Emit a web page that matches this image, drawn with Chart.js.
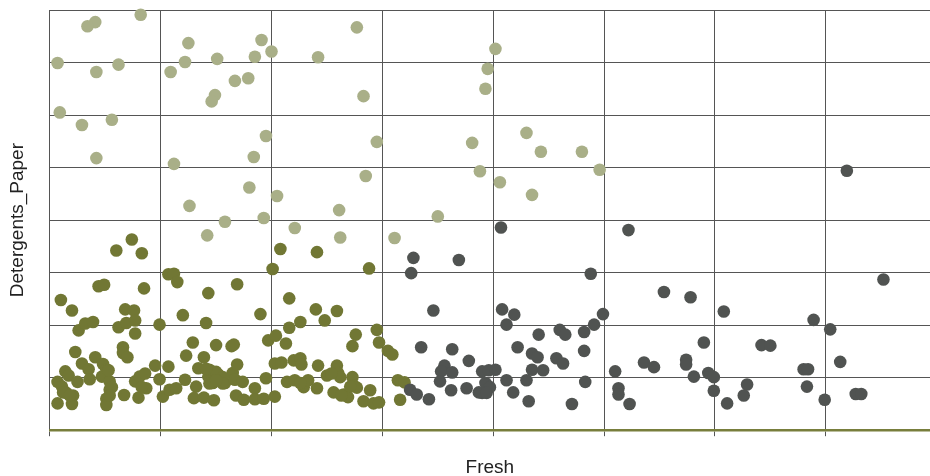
<!DOCTYPE html>
<html>
<head>
<meta charset="utf-8">
<script src="https://cdn.jsdelivr.net/npm/chart.js@4/dist/chart.umd.min.js"></script>
<style>
  html, body { margin: 0; padding: 0; background: #ffffff; }
  #wrap { width: 930px; height: 476px; }
</style>
</head>
<body>
<div id="wrap"><canvas id="c" width="930" height="476"></canvas></div>
<script>
// Axis titles
const xTitle = 'Fresh';
const yTitle = 'Detergents_Paper';

// Cluster 1 (light olive): [Fresh, Detergents_Paper] in grid units
const clusterLight = [
  [0.82,7.91],[0.41,7.77],[0.34,7.69],[0.07,6.99],[0.42,6.82],[0.62,6.96],[0.09,6.05],[0.29,5.81],
  [0.56,5.91],[0.42,5.18],[1.25,7.37],[1.22,7.01],[1.09,6.82],[1.51,7.07],[1.91,7.43],[1.85,7.11],
  [2.00,7.21],[2.42,7.10],[1.67,6.65],[1.79,6.70],[1.49,6.38],[1.46,6.26],[1.95,5.60],[1.84,5.20],
  [1.12,5.07],[1.80,4.62],[2.05,4.46],[1.26,4.27],[1.58,3.97],[1.93,4.04],[2.21,3.85],[1.42,3.71],
  [2.77,7.67],[2.83,6.36],[2.95,5.49],[2.85,4.84],[2.61,4.19],[2.62,3.67],[3.11,3.66],[3.50,4.07],
  [4.02,7.26],[3.95,6.88],[3.93,6.50],[3.81,5.47],[4.30,5.66],[4.43,5.30],[4.80,5.30],[4.96,4.96],
  [3.88,4.93],[4.06,4.72],[4.35,4.48]
];

// Cluster 2 (dark olive)
const clusterOlive = [
  [0.74,3.63],[0.60,3.42],[0.83,3.37],[2.08,3.45],[2.41,3.39],[2.01,3.07],[2.88,3.08],[1.07,2.97],
  [1.12,2.98],[1.15,2.82],[0.44,2.74],[0.49,2.77],[0.85,2.70],[1.43,2.61],[1.69,2.78],[0.10,2.48],
  [0.20,2.28],[2.16,2.51],[1.20,2.19],[1.90,2.21],[1.41,2.04],[0.99,2.01],[0.68,2.30],[0.76,2.28],
  [2.40,2.30],[2.59,2.27],[2.48,2.09],[2.26,2.06],[2.16,1.95],[0.26,1.90],[0.32,2.03],[0.39,2.06],
  [0.62,1.96],[0.69,2.04],[0.77,2.09],[0.77,1.84],[2.76,1.82],[2.73,1.60],[2.95,1.91],[2.97,1.67],
  [3.05,1.51],[3.09,1.44],[0.23,1.49],[0.41,1.39],[0.66,1.58],[0.66,1.47],[0.70,1.39],[1.29,1.67],
  [1.50,1.62],[1.64,1.60],[1.66,1.63],[1.97,1.71],[2.04,1.80],[2.13,1.65],[1.23,1.42],[1.39,1.39],
  [0.29,1.27],[0.35,1.16],[0.48,1.26],[0.51,1.16],[0.14,1.12],[0.17,1.04],[0.25,0.92],[0.36,0.97],
  [0.47,1.02],[0.54,0.93],[0.07,0.92],[0.11,0.83],[0.15,0.71],[0.21,0.66],[0.07,0.51],[0.20,0.50],
  [0.54,0.77],[0.51,0.60],[0.51,0.48],[0.67,0.67],[0.80,0.62],[0.77,0.93],[0.81,1.02],[0.86,1.08],
  [0.87,0.80],[0.95,1.23],[0.99,0.97],[1.07,1.21],[1.02,0.64],[1.08,0.77],[1.14,0.80],[1.22,0.96],
  [1.32,0.83],[1.30,0.61],[1.39,0.62],[1.48,0.57],[1.34,1.18],[1.43,1.02],[1.47,0.90],[1.52,1.06],
  [1.58,0.90],[1.65,1.09],[1.69,1.25],[1.67,0.96],[1.74,0.92],[1.68,0.66],[1.75,0.58],[1.85,0.80],
  [1.85,0.59],[1.93,0.60],[1.95,0.99],[2.03,0.64],[2.03,1.27],[2.09,1.29],[2.20,1.33],[2.26,1.37],
  [2.27,1.25],[2.14,0.92],[2.21,0.95],[2.29,0.82],[2.33,0.95],[2.41,0.80],[2.42,1.23],[2.50,1.04],
  [2.59,1.23],[2.60,1.09],[2.62,1.01],[2.73,1.01],[2.74,0.85],[2.77,0.81],[2.89,0.76],[2.56,0.72],
  [2.65,0.68],[2.69,0.63],[2.83,0.55],[2.92,0.51],[2.97,0.53],[1.44,1.15],[1.50,1.11],[1.56,1.01],
  [1.44,0.89],[1.56,0.89],[2.54,1.08],[2.26,0.90],[2.71,0.83],[2.63,0.66],[3.14,0.95],[3.20,0.91],
  [3.16,0.58],[0.12,0.72],[0.18,0.66],[0.56,0.82],[0.54,0.66],[0.83,0.82],[1.41,1.17],[1.50,0.95],
  [0.53,1.14]
];

// Cluster 3 (dark grey)
const clusterGrey = [
  [3.28,3.28],[3.69,3.24],[3.26,2.99],[4.88,2.98],[3.46,2.28],[4.08,2.30],[4.19,2.20],[4.12,2.01],
  [4.99,2.21],[4.91,2.01],[4.41,1.82],[4.60,1.91],[4.65,1.82],[4.82,1.87],[4.82,1.51],[3.35,1.58],
  [3.63,1.54],[4.22,1.58],[4.35,1.46],[4.40,1.39],[4.57,1.37],[4.63,1.27],[3.78,1.32],[3.56,1.23],
  [3.53,1.12],[3.63,1.10],[3.90,1.12],[3.96,1.14],[4.02,1.15],[4.35,1.15],[4.45,1.14],[5.10,1.12],
  [3.52,0.93],[3.62,0.76],[3.76,0.80],[3.93,0.90],[3.97,0.82],[3.90,0.71],[3.87,0.72],[3.94,0.71],
  [4.12,0.95],[4.30,0.95],[4.18,0.72],[4.83,0.92],[3.25,0.77],[3.31,0.68],[3.42,0.59],[4.32,0.55],
  [4.71,0.50],[5.13,0.80],[5.13,0.68],[7.52,2.87],[5.54,2.63],[5.78,2.53],[6.08,2.26],[6.89,2.10],
  [7.04,1.92],[5.90,1.67],[6.42,1.62],[6.50,1.61],[7.13,1.30],[5.36,1.29],[5.45,1.20],[5.74,1.34],
  [5.74,1.25],[5.81,1.02],[5.94,1.09],[5.99,1.01],[5.23,0.50],[5.99,0.75],[6.29,0.87],[6.26,0.66],
  [6.11,0.51],[6.80,1.16],[6.84,1.16],[6.83,0.83],[6.99,0.58],[7.27,0.69],[7.32,0.69],[7.19,4.94],
  [5.22,3.81],[4.07,3.86]
];

const colLight = '#a9af88';
const colOlive = '#717734';
const colGrey  = '#505351';
const gridCol  = '#555555';
const axisCol  = '#787e3c';
const fontFam  = '"Liberation Sans", Arial, Helvetica, sans-serif';

const toPts = arr => arr.map(p => ({x: p[0], y: p[1]}));

const mk = (label, arr, col) => ({
  label, data: toPts(arr), backgroundColor: col, borderWidth: 0,
  pointRadius: 6.3, pointHoverRadius: 6.3, clip: false
});

new Chart(document.getElementById('c'), {
  type: 'scatter',
  data: {
    datasets: [
      mk('Cluster 3', clusterGrey, colGrey),
      mk('Cluster 2', clusterOlive, colOlive),
      mk('Cluster 1', clusterLight, colLight)
    ]
  },
  options: {
    responsive: false,
    animation: false,
    devicePixelRatio: 1,
    layout: { autoPadding: false, padding: { top: 10, left: 0, right: 0, bottom: 0 } },
    plugins: { legend: { display: false }, tooltip: { enabled: false } },
    scales: {
      x: {
        type: 'linear', min: 0, max: 7.94,
        ticks: { stepSize: 1, display: false, includeBounds: false },
        grid: { color: gridCol, lineWidth: 1, drawTicks: true, tickLength: 6, tickColor: gridCol },
        border: { display: true, color: axisCol, width: 2.5 },
        title: { display: true, text: xTitle, color: '#222', font: { family: fontFam, size: 19 }, padding: { top: 20, bottom: -3 } }
      },
      y: {
        type: 'linear', min: 0, max: 8,
        ticks: { stepSize: 1, display: false },
        grid: { color: ctx => (ctx.tick && ctx.tick.value === 0) ? 'rgba(0,0,0,0)' : gridCol, lineWidth: 1, drawTicks: false },
        border: { display: false },
        title: { display: true, text: yTitle, color: '#222', font: { family: fontFam, size: 19 }, padding: { top: 6, bottom: 21 } }
      }
    }
  }
});
</script>
</body>
</html>
